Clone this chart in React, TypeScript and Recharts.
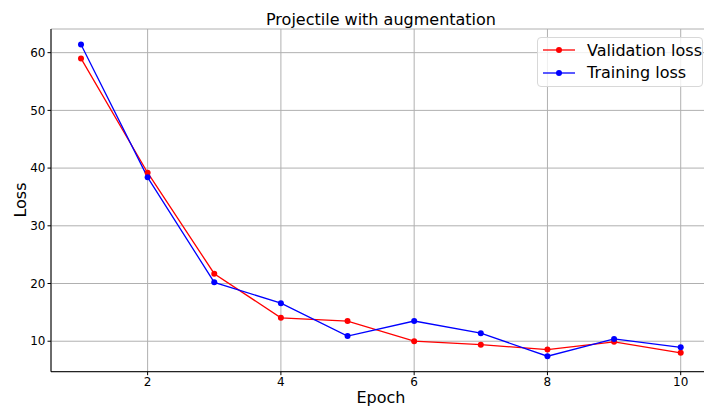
import { CartesianGrid, Line, LineChart, XAxis, YAxis } from "recharts";

const epochs = [1, 2, 3, 4, 5, 6, 7, 8, 9, 10];
const validationLoss = [59.0, 39.2, 21.7, 14.05, 13.5, 10.0, 9.4, 8.55, 9.9, 8.0];
const trainingLoss = [61.4, 38.4, 20.2, 16.6, 10.9, 13.5, 11.4, 7.4, 10.4, 8.95];
const xTicks = [2, 4, 6, 8, 10];
const yTicks = [10, 20, 30, 40, 50, 60];

const FONT = "'DejaVu Sans', sans-serif";

const data = epochs.map((epoch, i) => ({
  epoch,
  validation: validationLoss[i],
  training: trainingLoss[i],
}));

const legendItems = [
  { label: "Validation loss", color: "#ff0000" },
  { label: "Training loss", color: "#0000ff" },
];

const LegendBox = () => (
  <div
    style={{
      position: "absolute",
      left: 537,
      top: 37,
      width: 166,
      boxSizing: "border-box",
      border: "1px solid #d8d8d8",
      borderRadius: 4,
      background: "rgba(255,255,255,0.8)",
      padding: "1px 0 2px 5px",
      fontFamily: FONT,
      fontSize: 16,
      color: "#000",
      whiteSpace: "nowrap",
    }}
  >
    {legendItems.map((item) => (
      <div key={item.label} style={{ display: "flex", alignItems: "center", height: 22.5 }}>
        <svg width={32} height={10} style={{ marginRight: 12, flexShrink: 0 }}>
          <line x1={0} y1={5} x2={32} y2={5} stroke={item.color} strokeWidth={1.3} />
          <circle cx={16} cy={5} r={3} fill={item.color} />
        </svg>
        <span>{item.label}</span>
      </div>
    ))}
  </div>
);

const App = () => {
  // fixed to the viewport so the body margin and scrollbars stay out of the way;
  // the axes run past the right edge like the original figure
  return (
    <div
      style={{
        position: "fixed",
        left: 0,
        top: 0,
        width: 704,
        height: 409,
        overflow: "hidden",
        background: "#fff",
      }}
    >
      <LineChart
        width={712}
        height={409}
        data={data}
        margin={{ top: 29, right: 1.3, bottom: 0, left: 0 }}
      >
        <CartesianGrid stroke="#b0b0b0" strokeWidth={1} />
        <XAxis
          dataKey="epoch"
          type="number"
          domain={[0.55, 10.45]}
          ticks={xTicks}
          allowDataOverflow
          height={37.3}
          stroke="#000"
          tickSize={3.5}
          tick={{ fill: "#000", fontSize: 12, fontFamily: FONT }}
        />
        <YAxis
          type="number"
          domain={[4.72, 64.1]}
          ticks={yTicks}
          allowDataOverflow
          width={51}
          stroke="#000"
          tickSize={3.5}
          tick={{ fill: "#000", fontSize: 12, fontFamily: FONT }}
        />
        <Line
          type="linear"
          dataKey="validation"
          name="Validation loss"
          stroke="#ff0000"
          strokeWidth={1.3}
          dot={{ r: 3, fill: "#ff0000", stroke: "#ff0000", strokeWidth: 0 }}
          isAnimationActive={false}
        />
        <Line
          type="linear"
          dataKey="training"
          name="Training loss"
          stroke="#0000ff"
          strokeWidth={1.3}
          dot={{ r: 3, fill: "#0000ff", stroke: "#0000ff", strokeWidth: 0 }}
          isAnimationActive={false}
        />
      </LineChart>
      <div
        style={{
          position: "absolute",
          left: 51,
          width: 660,
          top: 10,
          textAlign: "center",
          fontFamily: FONT,
          fontSize: 16,
          lineHeight: "19px",
          color: "#000",
        }}
      >
        Projectile with augmentation
      </div>
      <div
        style={{
          position: "absolute",
          left: 51,
          width: 660,
          top: 388,
          textAlign: "center",
          fontFamily: FONT,
          fontSize: 16,
          lineHeight: "19px",
          color: "#000",
        }}
      >
        Epoch
      </div>
      <div
        style={{
          position: "absolute",
          left: 20,
          top: 200,
          transform: "translate(-50%, -50%) rotate(-90deg)",
          fontFamily: FONT,
          fontSize: 16,
          lineHeight: "19px",
          color: "#000",
        }}
      >
        Loss
      </div>
      <LegendBox />
    </div>
  );
};

export default App;
